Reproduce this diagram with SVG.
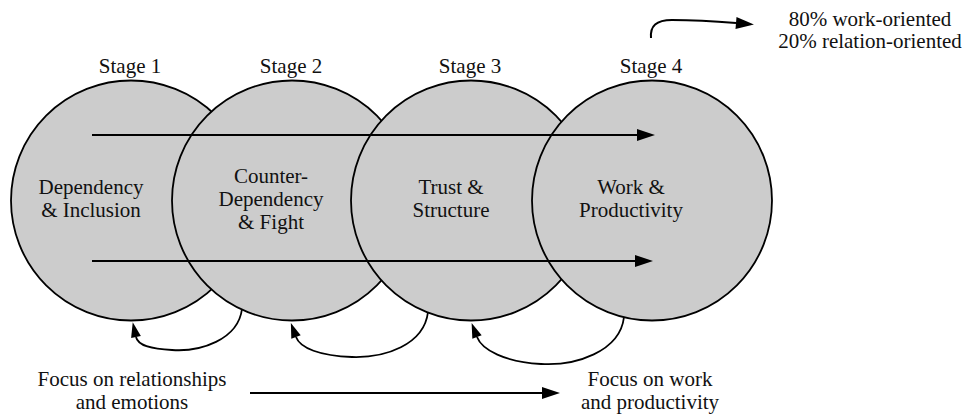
<svg xmlns="http://www.w3.org/2000/svg" width="976" height="416" viewBox="0 0 976 416">
<style>
.c{fill:#cccccc;stroke:#000;stroke-width:1.8}
.t{font-family:'Liberation Serif','Times New Roman',serif;font-size:21px;fill:#111;text-anchor:middle}
.a{fill:none;stroke:#000;stroke-width:2}
.l{fill:none;stroke:#000;stroke-width:1.8}
</style>
<defs>
<marker id="ah" markerUnits="userSpaceOnUse" markerWidth="20" markerHeight="14" refX="0" refY="6" orient="auto" overflow="visible">
<path d="M0,0 L18,6 L0,12 z" fill="#000"/>
</marker>
<marker id="sh" markerUnits="userSpaceOnUse" markerWidth="16" markerHeight="12" refX="0" refY="5" orient="auto" overflow="visible">
<path d="M0,0 L15,5 L0,10 z" fill="#000"/>
</marker>
</defs>
<g id="stage1">
<circle class="c" cx="131" cy="200.5" r="120"/>
<text class="t" x="130" y="73">Stage 1</text>
<text class="t" x="91" y="194">Dependency</text>
<text class="t" x="91" y="217">&amp; Inclusion</text>
</g>
<g id="stage2">
<circle class="c" cx="292" cy="200.5" r="120"/>
<text class="t" x="291" y="73">Stage 2</text>
<text class="t" x="271" y="183">Counter-</text>
<text class="t" x="271" y="206">Dependency</text>
<text class="t" x="271" y="229">&amp; Fight</text>
</g>
<g id="stage3">
<circle class="c" cx="471" cy="200.5" r="120"/>
<text class="t" x="470" y="73">Stage 3</text>
<text class="t" x="451" y="194">Trust &amp;</text>
<text class="t" x="451" y="217">Structure</text>
</g>
<g id="stage4">
<circle class="c" cx="652" cy="200.5" r="120"/>
<text class="t" x="651" y="73">Stage 4</text>
<text class="t" x="631" y="194">Work &amp;</text>
<text class="t" x="631" y="217">Productivity</text>
</g>
<g id="note">
<text class="t" x="870" y="26">80% work-oriented</text>
<text class="t" x="870" y="48">20% relation-oriented</text>
</g>
<g id="focus-left">
<text class="t" x="132" y="386">Focus on relationships</text>
<text class="t" x="132" y="409">and emotions</text>
</g>
<g id="focus-right">
<text class="t" x="650" y="386">Focus on work</text>
<text class="t" x="650" y="409">and productivity</text>
</g>
<g id="connectors">
<path class="a" d="M92,135 L637,135" marker-end="url(#ah)"/>
<path class="a" d="M92,261 L635,261" marker-end="url(#ah)"/>
<path class="a" d="M250,393 L542,393" marker-end="url(#ah)"/>
<path class="a" d="M651,38 C650,26 656,20 672,20 C695,20 712,21 736,23" marker-end="url(#ah)"/>
<path class="l" d="M242,309 C238,340 200,352 172,350 C152,349 138,346 136,337" marker-end="url(#sh)"/>
<path class="l" d="M428,312 C424,345 385,358 352,357 C320,356 300,348 296,337" marker-end="url(#sh)"/>
<path class="l" d="M624,317 C620,352 575,366 541,364 C505,362 482,350 477,337" marker-end="url(#sh)"/>
</g>
</svg>
